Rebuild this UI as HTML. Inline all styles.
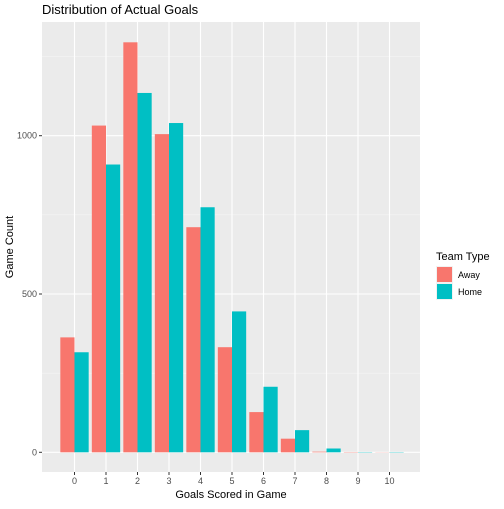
<!DOCTYPE html>
<html><head><meta charset="utf-8"><style>
body{margin:0;background:#fff;font-family:"Liberation Sans",sans-serif}
</style></head><body>
<svg width="504" height="504" xmlns="http://www.w3.org/2000/svg" font-family="Liberation Sans, sans-serif">
<text x="42" y="14" font-size="13" fill="#000">Distribution of Actual Goals</text>
<rect x="42" y="22" width="378" height="450" fill="#ebebeb"/>
<g id="grid"></g>
<g id="bars"></g>
<g id="axes"></g>
<text x="231" y="498" font-size="11" text-anchor="middle">Goals Scored in Game</text>
<text transform="translate(13,247) rotate(-90)" font-size="11" text-anchor="middle">Game Count</text>
<g>
<text x="436" y="260" font-size="11">Team Type</text>
<rect x="436" y="266" width="17" height="17" fill="#f2f2f2"/>
<rect x="437" y="267" width="15" height="15" fill="#f8766d"/>
<text x="458" y="278" font-size="9">Away</text>
<rect x="436" y="283" width="17" height="17" fill="#f2f2f2"/>
<rect x="437" y="284" width="15" height="15" fill="#00bfc4"/>
<text x="458" y="295" font-size="9">Home</text>
</g>
</svg>
<script>
const categories=["0","1","2","3","4","5","6","7","8","9","10"];
const awayValues=[363,1032,1295,1005,711,332,127,43,2,1,0.5];
const homeValues=[316,909,1135,1040,774,445,207,70,12,1,1];
const yTicks=[0,500,1000];
const NS="http://www.w3.org/2000/svg";
const step=31.5, x0=74.5;
function xPos(i){return x0+i*step;}
function yPos(v){return 452.3-v*0.3166;}
function mk(tag,attrs,parent){const e=document.createElementNS(NS,tag);for(const k in attrs)e.setAttribute(k,attrs[k]);parent.appendChild(e);return e;}
const grid=document.getElementById('grid'),bars=document.getElementById('bars'),axes=document.getElementById('axes');
[250,750,1250].forEach(v=>{const l=mk('line',{x1:42,x2:420,y1:yPos(v),y2:yPos(v),stroke:'#f5f5f5','stroke-width':0.6},grid);

});
yTicks.forEach(v=>{const l=mk('line',{x1:42,x2:420,y1:yPos(v),y2:yPos(v),stroke:'#fff','stroke-width':1.1},grid);


mk('line',{x1:39,x2:42,y1:yPos(v),y2:yPos(v),stroke:'#333','stroke-width':1},axes);
const t=mk('text',{x:37,y:yPos(v)+3,'font-size':9,fill:'#4d4d4d','text-anchor':'end'},axes);t.textContent=v;

});
categories.forEach((c,i)=>{const x=xPos(i);
const l=mk('line',{x1:x,x2:x,y1:22,y2:472,stroke:'#fff','stroke-width':1.1},grid);


mk('line',{x1:x,x2:x,y1:472,y2:475,stroke:'#333','stroke-width':1},axes);
const t=mk('text',{x:x,y:484,'font-size':9,fill:'#4d4d4d','text-anchor':'middle'},axes);t.textContent=c;


const w=step*0.45;
const a=mk('rect',{x:x-w,y:yPos(awayValues[i]),width:w,height:yPos(0)-yPos(awayValues[i]),fill:'#f8766d'},bars);


const h=mk('rect',{x:x,y:yPos(homeValues[i]),width:w,height:yPos(0)-yPos(homeValues[i]),fill:'#00bfc4'},bars);

});
</script>
</body></html>
